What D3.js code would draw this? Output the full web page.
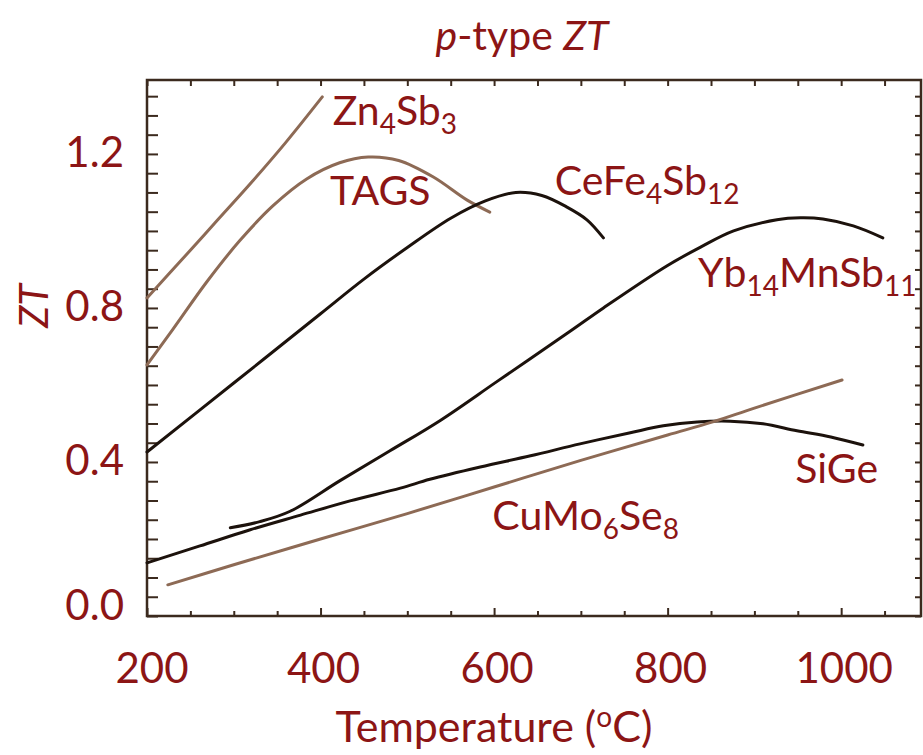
<!DOCTYPE html>
<meta charset="utf-8">
<style>
body { margin: 0; background: #fff; }
text { font-family: Lato, "Open Sans", sans-serif; fill: #8c1515; }
.curve { fill: none; stroke-width: 3px; stroke-linecap: round; }
.frame { fill: none; stroke: #3b2a1e; stroke-width: 2.5px; }
.tick line { stroke: #3b2a1e; stroke-width: 2px; }
</style>
<svg width="923" height="755"></svg>
<script src="https://d3js.org/d3.v7.min.js"></script>
<script>

// [temperature (C), ZT]
var zn4sb3 = [[200,0.826],[240,0.925],[280,1.025],[320,1.125],[360,1.23],[402,1.348]];
var tags = [[200,0.652],[230,0.745],[269,0.868],[307,0.975],[345,1.065],[384,1.135],[422,1.177],
            [455,1.192],[490,1.183],[530,1.14],[569,1.08],[595,1.049]];
var cefe4sb12 = [[200,0.426],[300,0.605],[400,0.785],[450,0.875],[500,0.957],[550,1.033],[590,1.078],
                 [625,1.1],[655,1.092],[684,1.062],[707,1.029],[726,0.982]];
var yb14mnsb11 = [[296,0.229],[330,0.245],[365,0.272],[422,0.351],[480,0.429],[538,0.508],[604,0.61],
                  [688,0.74],[726,0.8],[799,0.909],[838,0.958],[876,1.0],[926,1.029],[953,1.034],
                  [979,1.031],[1014,1.013],[1048,0.982]];
var sige = [[200,0.138],[261,0.182],[319,0.224],[377,0.262],[434,0.299],[492,0.332],[526,0.355],
            [584,0.387],[642,0.416],[699,0.447],[757,0.476],[795,0.494],[834,0.504],[872,0.506],
            [910,0.499],[949,0.481],[988,0.465],[1025,0.444]];
var cumo6se8 = [[224,0.081],[300,0.133],[400,0.2],[500,0.266],[600,0.335],[700,0.404],[800,0.47],
                [852,0.504],[900,0.54],[1001,0.613]];

var xTickLabels = [200, 400, 600, 800, 1000];
var yTickLabels = [0.0, 0.4, 0.8, 1.2];

var brown = "#8d6a55", black = "#1c120c";

var series = [
  {name: "Zn4Sb3", pts: zn4sb3, color: brown},
  {name: "TAGS", pts: tags, color: brown},
  {name: "CeFe4Sb12", pts: cefe4sb12, color: black},
  {name: "Yb14MnSb11", pts: yb14mnsb11, color: black},
  {name: "SiGe", pts: sige, color: black},
  {name: "CuMo6Se8", pts: cumo6se8, color: brown}
];

// curve labels: pieces of [text, isSubscript], anchored at [T, ZT]
var labels = [
  {parts: [["Zn",0],["4",1],["Sb",0],["3",1]], at: [414, 1.275]},
  {parts: [["TAGS",0]], at: [411, 1.068]},
  {parts: [["CeFe",0],["4",1],["Sb",0],["12",1]], at: [670, 1.094]},
  {parts: [["Yb",0],["14",1],["MnSb",0],["11",1]], at: [835, 0.855]},
  {parts: [["SiGe",0]], at: [947, 0.345]},
  {parts: [["CuMo",0],["6",1],["Se",0],["8",1]], at: [598, 0.223]}
];

var svg = d3.select("svg");

var x = d3.scaleLinear().domain([200, 1092]).range([147, 921]);
var y = d3.scaleLinear().domain([0, 1.392]).range([616, 80]);

var g = svg.append("g");

// ticks
var xMinor = d3.range(200, 1092, 50);
var yMinor = d3.range(0, 1.39, 0.05);

g.append("g").attr("class", "tick")
    .attr("transform", "translate(0," + y(0) + ")")
    .call(d3.axisBottom(x).tickValues(xMinor).tickSize(0).tickFormat(""))
    .call(function(s) {
      s.select(".domain").remove();
      s.selectAll(".tick line").attr("y2", function(d) { return d % 200 === 0 ? -8 : -5; });
    });

g.append("g").attr("class", "tick")
    .attr("transform", "translate(0," + y(1.392) + ")")
    .call(d3.axisTop(x).tickValues(xMinor).tickSize(-6).tickFormat(""))
    .call(function(s) { s.select(".domain").remove(); });

g.append("g").attr("class", "tick")
    .attr("transform", "translate(" + x(200) + ",0)")
    .call(d3.axisLeft(y).tickValues(yMinor).tickSize(-11).tickFormat(""))
    .call(function(s) { s.select(".domain").remove(); });

g.append("g").attr("class", "tick")
    .attr("transform", "translate(" + x(1092) + ",0)")
    .call(d3.axisRight(y).tickValues(yMinor).tickSize(-6).tickFormat(""))
    .call(function(s) { s.select(".domain").remove(); });

g.append("rect")
    .attr("class", "frame")
    .attr("x", x(200)).attr("y", y(1.392))
    .attr("width", x(1092) - x(200)).attr("height", y(0) - y(1.392));

// curves
var line = d3.line()
    .x(function(d) { return x(d[0]); })
    .y(function(d) { return y(d[1]); })
    .curve(d3.curveCatmullRom.alpha(0.5));

g.selectAll(".curve")
    .data(series)
  .enter().append("path")
    .attr("class", "curve")
    .style("stroke", function(d) { return d.color; })
    .attr("d", function(d) { return line(d.pts); });

// tick labels
svg.selectAll(".xlab")
    .data(xTickLabels)
  .enter().append("text")
    .attr("class", "xlab")
    .attr("x", function(d) { return Math.max(x(d) + 3, 152); })
    .attr("y", 683)
    .attr("text-anchor", "middle")
    .style("font-size", "42px")
    .text(function(d) { return d; });

svg.selectAll(".ylab")
    .data(yTickLabels)
  .enter().append("text")
    .attr("class", "ylab")
    .attr("x", 124)
    .attr("y", function(d) { return Math.min(y(d) - 2, 605) + 15; })
    .attr("text-anchor", "end")
    .style("font-size", "42px")
    .text(function(d) { return d.toFixed(1); });

// curve labels
labels.forEach(function(l) {
  var t = svg.append("text")
      .attr("x", x(l.at[0]))
      .attr("y", y(l.at[1]))
      .style("font-size", "41px");
  var down = false;
  l.parts.forEach(function(p) {
    var ts = t.append("tspan").text(p[0]);
    if (p[1]) {
      ts.style("font-size", "28px").attr("dy", down ? 0 : 9);
      down = true;
    } else {
      if (down) ts.attr("dy", -9);
      down = false;
    }
  });
});

// titles
var title = svg.append("text")
    .attr("x", 522).attr("y", 50)
    .attr("text-anchor", "middle")
    .style("font-size", "41px");
title.append("tspan").style("font-style", "italic").text("p");
title.append("tspan").text("-type ");
title.append("tspan").style("font-style", "italic").text("ZT");

var xt = svg.append("text")
    .attr("x", 494).attr("y", 742)
    .attr("text-anchor", "middle")
    .style("font-size", "43px");
xt.append("tspan").text("Temperature (");
xt.append("tspan").style("font-size", "28px").attr("dy", -15).text("o");
xt.append("tspan").attr("dy", 15).text("C)");

svg.append("text")
    .attr("transform", "translate(48,306) rotate(-90)")
    .attr("text-anchor", "middle")
    .style("font-size", "40px")
    .style("font-style", "italic")
    .text("ZT");

</script>
